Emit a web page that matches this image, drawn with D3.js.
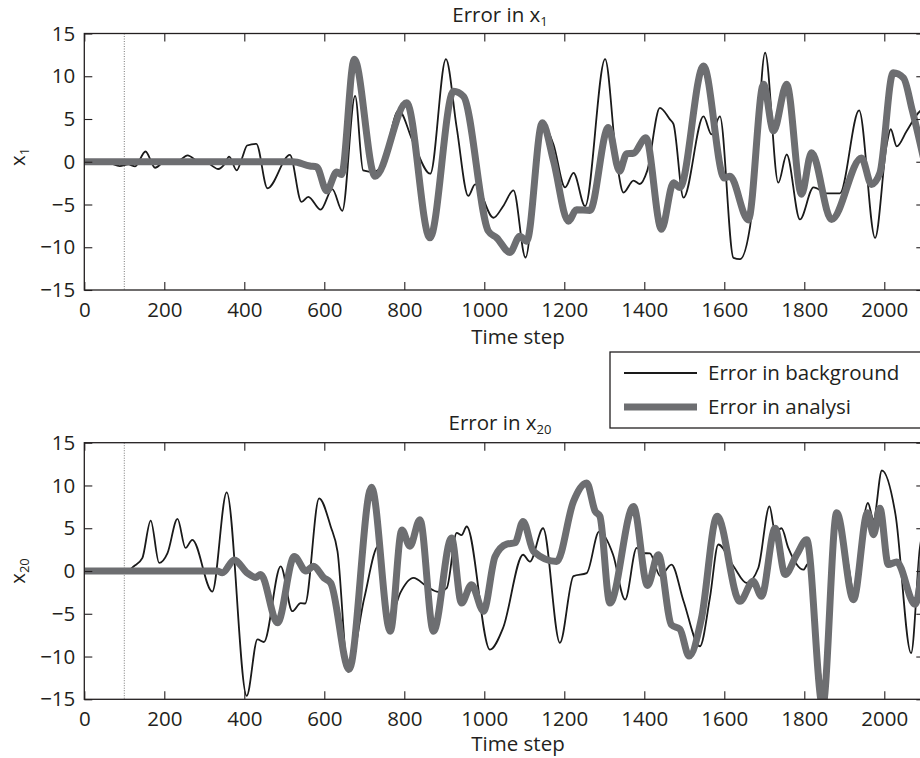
<!DOCTYPE html>
<html>
<head>
<meta charset="utf-8">
<script src="https://cdn.jsdelivr.net/npm/d3@7"></script>
<style>
body { margin: 0; background: #fff; }
text { font-family: "Open Sans", sans-serif; fill: #231f20; }
</style>
</head>
<body>
<script>
// time steps / values
var x1BgT = [0, 60, 89, 110, 127, 153, 177, 200, 235, 258, 285, 310, 335, 350, 362, 381, 395, 407, 430, 458, 514, 543, 560, 591, 620, 645, 677, 697, 725, 745, 786, 822, 865, 904, 931, 960, 977, 1023, 1047, 1073, 1103, 1143, 1173, 1202, 1223, 1252, 1302, 1331, 1348, 1373, 1389, 1407, 1439, 1464, 1473, 1498, 1548, 1568, 1589, 1623, 1639, 1664, 1677, 1702, 1735, 1756, 1789, 1823, 1857, 1889, 1937, 1977, 2006, 2016, 2031, 2056, 2089, 2100];
var x1BgV = [0, -0.1, -0.5, -0.3, -0.55, 1.2, -0.7, 0, 0.1, 0.75, 0, -0.2, -0.85, -0.3, 0.6, -1.0, 0.5, 1.9, 2.1, -3.1, 0.8, -4.7, -4.1, -5.6, -3.2, -5.75, 7.7, -1.0, -1.2, -0.3, 6.0, 2.3, -1.4, 12.0, 4.0, -4.0, -2.65, -6.55, -5.2, -3.35, -11.2, 4.6, 2.0, -3.0, -1.3, -5.2, 12.0, 0.1, -3.6, -2.2, -2.6, -1.1, 6.3, 4.95, 4.4, -4.2, 5.3, 3.2, 5.3, -11.25, -11.4, -7.7, -1.9, 12.75, -2.45, 0.85, -6.75, -3.0, -3.7, -3.7, 6.0, -8.9, 2.0, 3.8, 1.8, 3.6, 5.9, 6.2];

var x1AnT = [0, 522, 564, 581, 606, 631, 643, 675, 727, 806, 864, 923, 948, 1010, 1031, 1064, 1089, 1106, 1145, 1173, 1210, 1231, 1264, 1310, 1338, 1356, 1373, 1404, 1443, 1473, 1489, 1548, 1600, 1614, 1660, 1698, 1723, 1756, 1793, 1818, 1868, 1943, 1968, 1989, 2022, 2048, 2070, 2100];
var x1AnV = [0, 0, -0.5, -0.6, -3.4, -1.2, -1.5, 12.0, -1.7, 6.9, -8.9, 8.25, 7.65, -8.1, -8.9, -10.6, -8.7, -9.3, 4.55, 0.1, -6.95, -5.6, -5.7, 4.0, -1.1, 0.95, 1.0, 2.8, -7.9, -2.45, -3.0, 11.2, -1.9, -1.7, -6.8, 9.05, 3.6, 9.05, -3.8, 1.05, -6.75, 0.45, -2.65, -1.3, 10.4, 9.8, 6.0, 0.0];

var x20BgT = [0, 105, 124, 145, 166, 187, 208, 233, 253, 270, 320, 356, 406, 433, 449, 491, 520, 541, 552, 587, 616, 633, 660, 700, 735, 765, 790, 823, 856, 885, 906, 931, 943, 956, 1014, 1047, 1097, 1114, 1147, 1189, 1223, 1256, 1287, 1322, 1352, 1381, 1398, 1414, 1440, 1468, 1498, 1539, 1564, 1585, 1623, 1656, 1685, 1713, 1727, 1743, 1760, 1798, 1810, 1846, 1881, 1910, 1923, 1959, 1973, 1994, 2028, 2067, 2089, 2100];
var x20BgV = [0, 0, 0.55, 1.5, 5.9, 0.95, 2.1, 6.1, 2.7, 3.65, -2.4, 9.2, -14.6, -8.0, -8.3, 0.55, -4.7, -3.75, -3.8, 8.5, 5.2, 2.3, -11.8, -3.15, 2.9, -5.5, -2.55, -0.8, -1.8, -2.45, -2.0, 4.45, 4.2, 5.2, -9.2, -6.65, 1.9, 1.1, 5.0, -8.4, -0.6, -0.25, 4.6, 1.9, -3.35, 2.7, 2.1, 2.05, -0.6, 0.75, -3.5, -8.8, -3.15, 3.1, 0.55, -1.4, 0.35, 7.55, 4.6, 5.0, 2.7, 0.15, 0.9, -13.0, 6.6, 0.75, -2.4, 7.95, 6.0, 11.75, 6.6, -9.6, 2.7, 5.5];

var x20AnT = [0, 332, 345, 375, 408, 429, 441, 483, 525, 554, 573, 599, 616, 662, 718, 765, 794, 814, 839, 873, 918, 943, 968, 998, 1027, 1056, 1077, 1097, 1123, 1181, 1223, 1256, 1277, 1289, 1314, 1373, 1408, 1435, 1468, 1489, 1512, 1543, 1582, 1639, 1672, 1693, 1727, 1752, 1781, 1806, 1846, 1881, 1923, 1958, 1973, 1989, 2010, 2031, 2077, 2100];
var x20AnV = [0, 0, -0.2, 1.3, -0.25, -0.75, -0.4, -6.05, 1.7, 0, 0.55, -0.8, -1.4, -11.5, 9.8, -7.05, 4.8, 2.9, 6.0, -7.05, 3.85, -3.75, -1.6, -4.7, 1.7, 3.15, 3.3, 5.8, 2.3, 1.1, 8.15, 10.3, 7.0, 6.4, -3.75, 7.55, -1.7, 1.9, -6.3, -6.8, -9.95, -5.5, 6.4, -3.55, -1.2, -2.95, 5.0, -0.4, 1.9, 3.65, -15.8, 6.8, -3.35, 6.8, 4.25, 7.35, 0.75, 1.05, -3.9, 3.0];

var xTicks = [0, 200, 400, 600, 800, 1000, 1200, 1400, 1600, 1800, 2000];
var yTicks = [-15, -10, -5, 0, 5, 10, 15];
var startStep = 100;
var legendLabels = ["Error in background", "Error in analysi"];

var w = 920, h = 758, fs = 20.5;
var gray = "#6d6e71", dark = "#1a1a1a";

var svg = d3.select("body").append("svg")
    .attr("width", w)
    .attr("height", h);

var x = d3.scaleLinear().domain([0, 2100]).range([84.3, 924.3]);

function zip(t, v){
    return t.map(function(d, i){ return [d, v[i]]; });
}

function drawPanel(cfg){
    var y = d3.scaleLinear().domain([-15, 15]).range([cfg.bottom, cfg.top]);
    var g = svg.append("g");

    g.append("clipPath").attr("id", cfg.id)
        .append("rect")
        .attr("x", x(0)).attr("y", cfg.top)
        .attr("width", x(2100) - x(0)).attr("height", cfg.bottom - cfg.top);

    //start of assimilation
    g.append("line")
        .attr("x1", x(startStep)).attr("x2", x(startStep))
        .attr("y1", cfg.top).attr("y2", cfg.bottom)
        .attr("stroke", "#555").attr("stroke-width", 0.8)
        .attr("stroke-dasharray", "1,1.5");

    var line = d3.line()
        .x(function(d){ return x(d[0]); })
        .y(function(d){ return y(d[1]); })
        .curve(d3.curveMonotoneX);

    var lines = g.append("g").attr("clip-path", "url(#" + cfg.id + ")");
    lines.append("path")
        .datum(zip(cfg.bgT, cfg.bgV))
        .attr("d", line)
        .attr("fill", "none").attr("stroke", dark).attr("stroke-width", 1.8)
        .attr("stroke-linejoin", "round");
    lines.append("path")
        .datum(zip(cfg.anT, cfg.anV))
        .attr("d", line)
        .attr("fill", "none").attr("stroke", gray).attr("stroke-width", 7)
        .attr("stroke-linejoin", "round").attr("stroke-linecap", "round");

    //inward ticks on all sides
    var ax = [
        [d3.axisBottom(x).tickValues(xTicks).tickSizeInner(-8).tickSizeOuter(0).tickPadding(12).tickFormat(d3.format("d")), "translate(0," + cfg.bottom + ")"],
        [d3.axisTop(x).tickValues(xTicks).tickSizeInner(-8).tickSizeOuter(0).tickFormat(""), "translate(0," + cfg.top + ")"],
        [d3.axisLeft(y).tickValues(yTicks).tickSizeInner(-8).tickSizeOuter(0).tickPadding(9).tickFormat(function(d){ return d < 0 ? "\u2212" + (-d) : d; }), "translate(" + x(0) + ",0)"],
        [d3.axisRight(y).tickValues(yTicks).tickSizeInner(-8).tickSizeOuter(0).tickFormat(""), "translate(" + x(2100) + ",0)"]
    ];
    ax.forEach(function(a){
        var ag = g.append("g").attr("transform", a[1]).call(a[0]);
        ag.select(".domain").remove();
        ag.selectAll(".tick line").attr("stroke", "#231f20").attr("stroke-width", 1.1);
        ag.selectAll("text").attr("font-size", fs).attr("font-family", "Open Sans").attr("fill", "#231f20");
    });

    g.append("rect")
        .attr("x", x(0)).attr("y", cfg.top)
        .attr("width", x(2100) - x(0)).attr("height", cfg.bottom - cfg.top)
        .attr("fill", "none").attr("stroke", "#231f20").attr("stroke-width", 1.3);

    var title = g.append("text")
        .attr("x", 500).attr("y", cfg.titleY)
        .attr("text-anchor", "middle").attr("font-size", fs);
    title.append("tspan").text("Error in x");
    title.append("tspan").attr("font-size", 13).attr("dy", 4).text(cfg.sub);

    g.append("text")
        .attr("x", 518).attr("y", cfg.xlabelY)
        .attr("text-anchor", "middle").attr("font-size", fs)
        .text("Time step");

    var yl = g.append("text")
        .attr("transform", "translate(25," + cfg.ylabelY + ") rotate(-90)")
        .attr("text-anchor", "middle").attr("font-size", fs);
    yl.append("tspan").text("x");
    yl.append("tspan").attr("font-size", 13).attr("dy", 4).text(cfg.sub);
}

drawPanel({id: "clip1", top: 33.5, bottom: 290, sub: "1",
    bgT: x1BgT, bgV: x1BgV, anT: x1AnT, anV: x1AnV,
    titleY: 22, xlabelY: 344, ylabelY: 157});

drawPanel({id: "clip2", top: 442.7, bottom: 699.3, sub: "20",
    bgT: x20BgT, bgV: x20BgV, anT: x20AnT, anV: x20AnV,
    titleY: 430, xlabelY: 751, ylabelY: 571});

//legend
var legend = svg.append("g");
legend.append("rect")
    .attr("x", 610).attr("y", 352)
    .attr("width", 330).attr("height", 76)
    .attr("fill", "#fff").attr("stroke", "#231f20").attr("stroke-width", 1.3);
legend.selectAll(".key")
    .data(legendLabels)
    .enter()
    .append("line")
    .attr("x1", 624).attr("x2", 697)
    .attr("y1", function(d, i){ return 373 + i * 34; })
    .attr("y2", function(d, i){ return 373 + i * 34; })
    .attr("stroke", function(d, i){ return i ? gray : dark; })
    .attr("stroke-width", function(d, i){ return i ? 7 : 1.8; });
legend.selectAll(".lab")
    .data(legendLabels)
    .enter()
    .append("text")
    .attr("x", 708)
    .attr("y", function(d, i){ return 380 + i * 34; })
    .attr("font-size", fs)
    .text(function(d){ return d; });
</script>
</body>
</html>
